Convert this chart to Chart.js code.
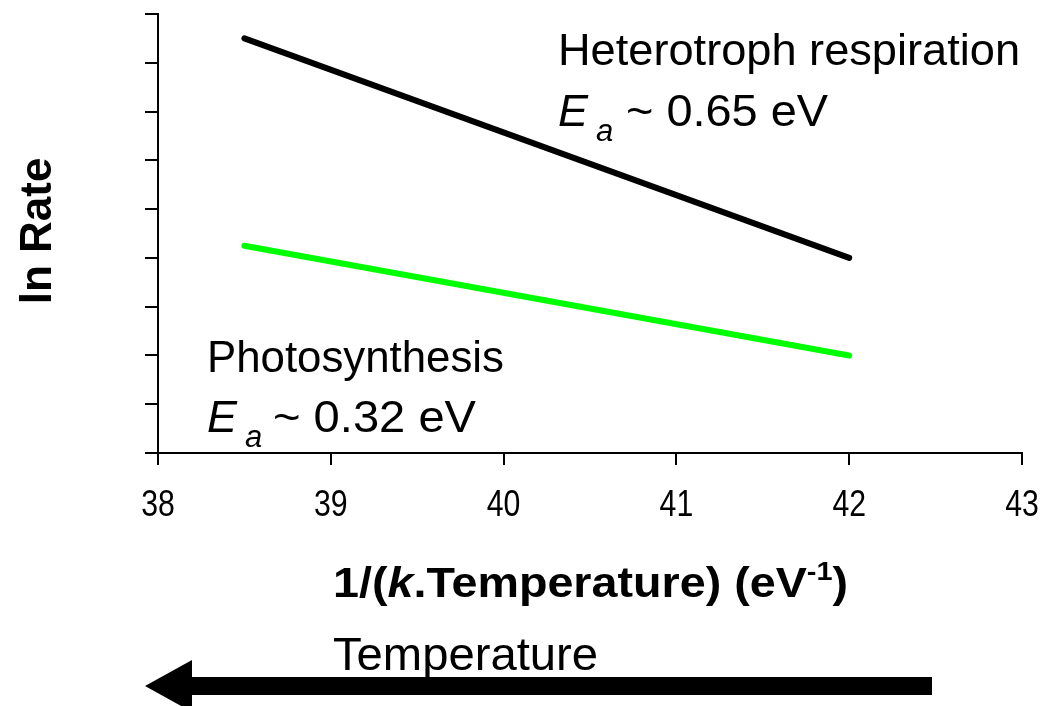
<!DOCTYPE html>
<html>
<head>
<meta charset="utf-8">
<script src="https://cdn.jsdelivr.net/npm/chart.js@4.4.1/dist/chart.umd.min.js"></script>
<style>
  html, body { margin: 0; padding: 0; background: #fff; }
  #wrap { width: 1057px; height: 706px; }
</style>
</head>
<body>
<div id="wrap"><canvas id="c" width="1057" height="706"></canvas></div>
<script>
// Inverse thermal energy 1/(kT), eV^-1
const invKT = [38.5, 42];
// ln of rate for each process (arbitrary units)
const heteroLnRate = [8.5, 4.0];
const photoLnRate = [4.25, 2.0];
// Axis ranges and tick values
const xTickValues = [38, 39, 40, 41, 42, 43];
const xTickLabels = ['38', '39', '40', '41', '42', '43'];
const yTickValues = [0, 1, 2, 3, 4, 5, 6, 7, 8, 9];

const pairs = (xs, ys) => xs.map((x, i) => ({ x: x, y: ys[i] }));

// Draws text left-aligned at (x, y), stretched horizontally to span `width` px
function fitText(ctx, text, x, y, font, width) {
  ctx.save();
  ctx.font = font;
  const w = ctx.measureText(text).width;
  const s = width ? width / w : 1;
  ctx.translate(x, y);
  ctx.scale(s, 1);
  ctx.fillText(text, 0, 0);
  ctx.restore();
}

const annotations = {
  id: 'annotations',
  afterDraw(chart) {
    const ctx = chart.ctx;
    ctx.save();
    ctx.fillStyle = '#000';
    ctx.textBaseline = 'alphabetic';
    ctx.textAlign = 'left';
    const F = '"Liberation Sans", Arial, sans-serif';

    // Condensed x tick labels placed by the x scale
    const xs = chart.scales.x;
    ctx.font = '36px ' + F;
    xTickValues.forEach((v, i) => {
      const px = xs.getPixelForValue(v);
      ctx.save();
      ctx.translate(px, 516);
      ctx.scale(0.84, 1);
      ctx.textAlign = 'center';
      ctx.fillText(xTickLabels[i], 0, 0);
      ctx.restore();
    });

    // Respiration label
    fitText(ctx, 'Heterotroph respiration', 558, 65, '45px ' + F, 462);
    fitText(ctx, 'E', 558, 126, 'italic 45px ' + F, 0);
    fitText(ctx, 'a', 596, 141, 'italic 31px ' + F, 0);
    fitText(ctx, '~ 0.65 eV', 626, 126, '45px ' + F, 202);

    // Photosynthesis label
    fitText(ctx, 'Photosynthesis', 207, 372, '45px ' + F, 297);
    fitText(ctx, 'E', 207, 432, 'italic 45px ' + F, 0);
    fitText(ctx, 'a', 245, 447, 'italic 31px ' + F, 0);
    fitText(ctx, '~ 0.32 eV', 273, 432, '45px ' + F, 203);

    // Y axis title
    ctx.save();
    ctx.translate(51, 231);
    ctx.rotate(-Math.PI / 2);
    ctx.textAlign = 'center';
    ctx.font = 'bold 44px ' + F;
    ctx.fillText('ln Rate', 0, 0);
    ctx.restore();

    // X axis title with italic k and superscript -1
    const bold = 'bold 42px ' + F;
    const boldIt = 'italic bold 42px ' + F;
    const sup = 'bold 26px ' + F;
    const parts = [
      { t: '1/(', f: bold, dy: 0 },
      { t: 'k', f: boldIt, dy: 0 },
      { t: '.Temperature) (eV', f: bold, dy: 0 },
      { t: '-1', f: sup, dy: -17 },
      { t: ')', f: bold, dy: 0 }
    ];
    let total = 0;
    parts.forEach(p => { ctx.font = p.f; p.w = ctx.measureText(p.t).width; total += p.w; });
    const sx = 515 / total;
    ctx.save();
    ctx.translate(333, 597);
    ctx.scale(sx, 1);
    let cx = 0;
    parts.forEach(p => { ctx.font = p.f; ctx.fillText(p.t, cx, p.dy); cx += p.w; });
    ctx.restore();

    // Temperature direction arrow
    fitText(ctx, 'Temperature', 333, 670, '46px ' + F, 265);
    ctx.beginPath();
    ctx.moveTo(932, 677);
    ctx.lineTo(192, 677);
    ctx.lineTo(192, 660);
    ctx.lineTo(145, 686);
    ctx.lineTo(192, 712);
    ctx.lineTo(192, 695);
    ctx.lineTo(932, 695);
    ctx.closePath();
    ctx.fill();
    ctx.restore();
  }
};

new Chart(document.getElementById('c'), {
  type: 'line',
  data: {
    datasets: [
      {
        label: 'Heterotroph respiration',
        data: pairs(invKT, heteroLnRate),
        borderColor: '#000000',
        borderWidth: 6,
        borderCapStyle: 'round',
        pointRadius: 0,
        fill: false
      },
      {
        label: 'Photosynthesis',
        data: pairs(invKT, photoLnRate),
        borderColor: '#00ff00',
        borderWidth: 6,
        borderCapStyle: 'round',
        pointRadius: 0,
        fill: false
      }
    ]
  },
  options: {
    responsive: false,
    animation: false,
    events: [],
    layout: { padding: { top: 14, right: 35, left: 0, bottom: 0 } },
    plugins: { legend: { display: false }, tooltip: { enabled: false } },
    scales: {
      x: {
        type: 'linear',
        min: xTickValues[0],
        max: xTickValues[xTickValues.length - 1],
        afterBuildTicks: s => { s.ticks = xTickValues.map(v => ({ value: v })); },
        ticks: { display: false },
        grid: { drawOnChartArea: false, drawTicks: true, tickLength: 12, color: '#000', lineWidth: 2 },
        border: { color: '#000', width: 2 },
        afterFit: s => { s.height = 253; }
      },
      y: {
        type: 'linear',
        min: yTickValues[0],
        max: yTickValues[yTickValues.length - 1],
        afterBuildTicks: s => { s.ticks = yTickValues.map(v => ({ value: v })); },
        ticks: { display: false },
        grid: { drawOnChartArea: false, drawTicks: true, tickLength: 13, color: '#000', lineWidth: 2 },
        border: { color: '#000', width: 2 },
        afterFit: s => { s.width = 158; }
      }
    }
  },
  plugins: [annotations]
});
</script>
</body>
</html>
